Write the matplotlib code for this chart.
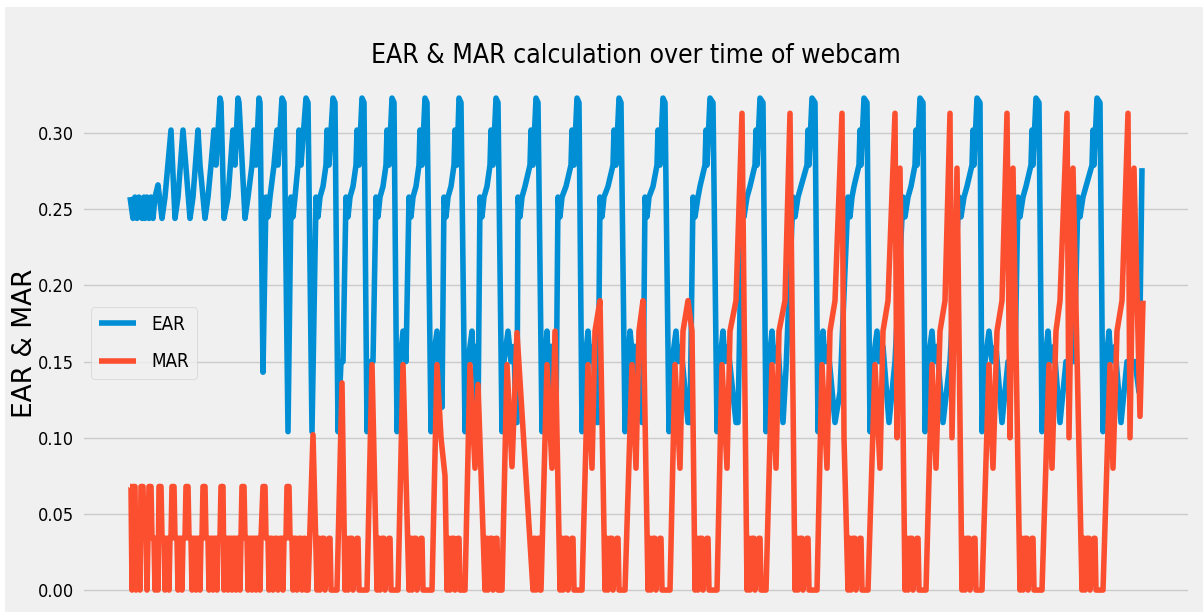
import matplotlib
matplotlib.use("Agg")
import matplotlib.pyplot as plt
from matplotlib.patches import Rectangle

plt.style.use('fivethirtyeight')

# EAR (eye aspect ratio) per webcam frame, one line per blink cycle
ear_frame = [
    0, 3, 5, 7, 9, 12, 14, 15, 17, 19, 21, 23, 25, 28, 32, 35,
    41, 45, 48, 53, 60, 63, 68, 70, 75, 78, 81, 84, 86, 90, 91,
    94, 98, 103, 105, 108, 109, 115, 118, 122, 124, 126, 129, 130,
    133, 136, 138, 140, 144, 147, 148, 152, 154,
    158, 161, 163, 165, 168, 169, 171, 176, 178,
    182, 186, 188, 190, 193, 196, 197, 199, 203, 205,
    208, 211, 213, 216, 218, 220, 223, 226, 227, 229, 232, 234,
    237, 240, 243, 246, 248, 250, 253, 256, 257, 259, 262, 264,
    267, 270, 273, 276, 279, 281, 283, 286, 289, 290, 292, 295, 297,
    301, 303, 307, 309, 311, 312, 314, 316, 318, 321, 324, 325, 327, 329, 331,
    335, 338, 342, 343, 345, 347, 348, 350, 352, 354, 357, 360, 361, 363, 366, 368,
    372, 374, 378, 381, 384, 386, 387, 388, 390, 392, 395, 400, 401, 403, 406, 408,
    412, 415, 417, 418, 421, 424, 426, 428, 430, 432, 436, 441, 442, 444, 447, 449,
    452, 455, 458, 460, 463, 467, 468, 470, 472, 474, 478, 483, 484, 486, 489, 491,
    495, 498, 500, 503, 505, 512, 513, 515, 517, 519, 523, 527, 528, 530, 533, 535,
    539, 542, 546, 548, 551, 558, 560, 563, 565, 568, 570, 575, 576, 577, 580, 583,
    587, 590, 593, 595, 598, 606, 608, 612, 614, 617, 620, 625, 626, 627, 630, 633,
    636, 639, 642, 644, 648, 653, 656, 663, 665, 668, 671, 677, 678, 679, 682, 685,
    688, 691, 693, 695, 698, 705, 710, 718, 720, 722, 724, 729, 730, 731, 734, 737,
    740, 743, 747, 749, 753, 759, 765, 773, 775, 778, 781, 785, 786, 787, 790, 793,
    795, 798, 802, 804, 807, 813, 820, 829, 831, 834, 837, 842, 843, 844, 847, 850,
    852, 855, 859, 862, 866, 872, 878, 885, 888, 890, 893, 896, 901, 902, 903, 906, 909,
    912, 915, 918, 920, 924, 930, 936, 944, 948, 950, 953, 956, 962, 963, 964, 967, 970,
    973, 976, 979, 981, 985, 991, 997, 1005, 1009, 1012,
]
ear_value = [
    0.258, 0.244, 0.258, 0.244, 0.258, 0.244, 0.258, 0.244, 0.258, 0.244, 0.258, 0.244, 0.258, 0.266, 0.244, 0.258,
    0.302, 0.244, 0.258, 0.302, 0.244, 0.258, 0.302, 0.279, 0.244, 0.258, 0.279, 0.302, 0.279, 0.323, 0.320,
    0.244, 0.258, 0.302, 0.279, 0.323, 0.320, 0.244, 0.258, 0.279, 0.302, 0.279, 0.323, 0.320,
    0.143, 0.258, 0.245, 0.258, 0.279, 0.302, 0.279, 0.323, 0.320,
    0.104, 0.258, 0.245, 0.258, 0.279, 0.302, 0.279, 0.323, 0.320,
    0.104, 0.258, 0.245, 0.258, 0.265, 0.279, 0.302, 0.279, 0.323, 0.320,
    0.104, 0.15, 0.15, 0.258, 0.245, 0.258, 0.265, 0.279, 0.302, 0.279, 0.323, 0.320,
    0.104, 0.15, 0.15, 0.258, 0.245, 0.258, 0.265, 0.279, 0.302, 0.279, 0.323, 0.320,
    0.104, 0.15, 0.17, 0.15, 0.258, 0.245, 0.258, 0.265, 0.279, 0.302, 0.279, 0.323, 0.320,
    0.104, 0.15, 0.17, 0.15, 0.16, 0.12, 0.258, 0.245, 0.258, 0.265, 0.279, 0.302, 0.279, 0.323, 0.320,
    0.104, 0.15, 0.17, 0.15, 0.16, 0.11, 0.11, 0.258, 0.245, 0.258, 0.265, 0.279, 0.302, 0.279, 0.323, 0.320,
    0.104, 0.15, 0.17, 0.15, 0.16, 0.11, 0.11, 0.258, 0.245, 0.258, 0.265, 0.279, 0.302, 0.279, 0.323, 0.320,
    0.104, 0.15, 0.17, 0.15, 0.16, 0.11, 0.11, 0.258, 0.245, 0.258, 0.265, 0.279, 0.302, 0.279, 0.323, 0.320,
    0.104, 0.15, 0.17, 0.15, 0.16, 0.11, 0.11, 0.258, 0.245, 0.258, 0.265, 0.279, 0.302, 0.279, 0.323, 0.320,
    0.104, 0.15, 0.17, 0.15, 0.16, 0.11, 0.11, 0.258, 0.245, 0.258, 0.265, 0.279, 0.302, 0.279, 0.323, 0.320,
    0.104, 0.15, 0.17, 0.15, 0.16, 0.11, 0.11, 0.258, 0.245, 0.258, 0.265, 0.279, 0.302, 0.279, 0.323, 0.320,
    0.104, 0.15, 0.17, 0.15, 0.16, 0.11, 0.11, 0.258, 0.245, 0.258, 0.265, 0.279, 0.302, 0.279, 0.323, 0.320,
    0.104, 0.15, 0.17, 0.15, 0.16, 0.11, 0.145, 0.258, 0.245, 0.258, 0.265, 0.279, 0.302, 0.279, 0.323, 0.320,
    0.104, 0.15, 0.17, 0.15, 0.16, 0.11, 0.13, 0.258, 0.245, 0.258, 0.265, 0.279, 0.302, 0.279, 0.323, 0.320,
    0.104, 0.15, 0.17, 0.15, 0.16, 0.11, 0.15, 0.258, 0.245, 0.258, 0.265, 0.279, 0.302, 0.279, 0.323, 0.320,
    0.104, 0.15, 0.17, 0.15, 0.16, 0.11, 0.15, 0.258, 0.245, 0.258, 0.265, 0.279, 0.302, 0.279, 0.323, 0.320,
    0.104, 0.15, 0.17, 0.15, 0.16, 0.11, 0.15, 0.15, 0.258, 0.245, 0.258, 0.265, 0.279, 0.302, 0.279, 0.323, 0.320,
    0.104, 0.15, 0.17, 0.15, 0.16, 0.11, 0.15, 0.15, 0.258, 0.245, 0.258, 0.265, 0.279, 0.302, 0.279, 0.323, 0.320,
    0.104, 0.15, 0.17, 0.15, 0.16, 0.11, 0.15, 0.15, 0.13, 0.277,
]

# MAR (mouth aspect ratio) per webcam frame
mar_frame = [
    0, 1, 2, 3, 5, 6, 7, 9, 10,
    11, 13, 14, 16, 17, 18,
    19, 21, 22, 24, 25, 26, 27, 28,
    29, 31, 32, 34, 35, 36, 38, 39, 40, 41,
    42, 44, 45, 47, 48, 49, 51, 52, 53, 55,
    56, 58, 59, 61, 62, 63, 65, 66, 67, 69, 70, 71, 72,
    73, 75, 76, 78, 79, 80, 82, 83, 84, 86, 87, 88, 90,
    91, 93, 94, 95, 97, 98, 99, 101, 102, 103, 105, 106, 107, 109, 110, 111,
    112, 114, 115, 117, 118, 119, 121, 122, 123, 125, 126, 127, 129, 130, 131,
    133, 135, 136, 138, 139, 140, 142, 143, 145, 147, 148, 150, 152, 153, 154, 156,
    157, 159, 160, 162, 163, 164, 166, 167, 169, 171, 172, 174, 175, 176, 178,
    183, 187, 188, 189, 190, 192, 194, 195, 199, 200, 201, 207,
    212, 215, 216, 217, 218, 220, 222, 223, 227, 228, 229, 237,
    242, 247, 248, 249, 250, 252, 254, 255, 259, 260, 261, 268,
    273, 279, 280, 281, 282, 284, 286, 287, 291, 292, 293, 302,
    307, 311, 315, 317, 318, 319, 320, 322, 324, 325, 328, 329, 330, 335,
    340, 345, 348, 355, 356, 357, 358, 360, 362, 363, 366, 367, 368, 372,
    377, 382, 387, 403, 404, 405, 406, 408, 409, 410, 411,
    417, 422, 425, 430, 431, 432, 433, 435, 437, 438, 442, 443, 444, 452,
    458, 462, 465, 470, 475, 476, 477, 478, 480, 482, 483, 487, 488, 489, 495,
    502, 506, 509, 513, 518, 519, 520, 521, 523, 525, 526, 530, 531, 532, 540,
    545, 550, 553, 558, 562, 565, 566, 567, 568, 570, 572, 573, 577, 578, 579, 587,
    592, 597, 600, 606, 612, 617, 618, 619, 620, 622, 624, 625, 629, 630, 631, 636,
    642, 646, 649, 655, 660, 665, 666, 667, 668, 670, 672, 673, 677, 678, 679, 687,
    692, 697, 700, 705, 712, 714, 718, 719, 720, 721, 723, 725, 726, 730, 731, 732, 738,
    745, 750, 753, 758, 765, 767, 770, 775, 776, 777, 778, 780, 782, 783, 787, 788, 789, 796,
    802, 806, 810, 815, 820, 822, 827, 832, 833, 834, 835, 837, 839, 840, 844, 845, 846, 852,
    859, 863, 867, 872, 877, 880, 883, 890, 891, 892, 893, 895, 897, 898, 902, 903, 904, 912,
    919, 922, 926, 930, 937, 939, 943, 952, 953, 954, 955, 957, 959, 960, 964, 965, 966, 973,
    980, 983, 987, 992, 998, 1000, 1004, 1010, 1013,
]
mar_value = [
    0.068, 0.068, 0, 0.068, 0.068, 0, 0.034, 0.034, 0,
    0.068, 0.068, 0.034, 0.034, 0, 0.034,
    0.068, 0.068, 0.034, 0.034, 0, 0.034, 0.034, 0,
    0.068, 0.068, 0.034, 0.034, 0, 0.034, 0.034, 0, 0.034, 0.034,
    0.068, 0.068, 0.034, 0.034, 0, 0.034, 0.034, 0, 0.034, 0.034,
    0.068, 0.068, 0.034, 0.034, 0, 0.034, 0.034, 0, 0.034, 0.034, 0, 0.034, 0.034,
    0.068, 0.068, 0.034, 0.034, 0, 0.034, 0.034, 0, 0.034, 0.034, 0, 0.034, 0.034,
    0.068, 0.068, 0, 0.034, 0.034, 0, 0.034, 0.034, 0, 0.034, 0.034, 0, 0.034, 0.034, 0, 0.034,
    0.068, 0.068, 0.034, 0.034, 0, 0.034, 0.034, 0, 0.034, 0.034, 0, 0.034, 0.034, 0, 0.034,
    0.068, 0.068, 0.034, 0.034, 0, 0.034, 0.034, 0, 0.034, 0.034, 0, 0.034, 0.034, 0, 0.034, 0.034,
    0.068, 0.068, 0.034, 0.034, 0, 0.034, 0.034, 0, 0.034, 0.034, 0, 0.034, 0.034, 0, 0,
    0.102, 0, 0.034, 0.034, 0, 0.034, 0.034, 0, 0.034, 0.034, 0, 0,
    0.136, 0, 0.034, 0.034, 0, 0.034, 0.034, 0, 0.034, 0.034, 0, 0,
    0.148, 0, 0.034, 0.034, 0, 0.034, 0.034, 0, 0.034, 0.034, 0, 0,
    0.148, 0, 0.034, 0.034, 0, 0.034, 0.034, 0, 0.034, 0.034, 0, 0,
    0.148, 0.10, 0.075, 0, 0.034, 0.034, 0, 0.034, 0.034, 0, 0.034, 0.034, 0, 0,
    0.148, 0.08, 0.135, 0, 0.034, 0.034, 0, 0.034, 0.034, 0, 0.034, 0.034, 0, 0,
    0.148, 0.081, 0.169, 0, 0.034, 0.034, 0, 0.034, 0.034, 0, 0,
    0.148, 0.08, 0.17, 0, 0.034, 0.034, 0, 0.034, 0.034, 0, 0.034, 0.034, 0, 0,
    0.148, 0.08, 0.17, 0.19, 0, 0.034, 0.034, 0, 0.034, 0.034, 0, 0.034, 0.034, 0, 0,
    0.148, 0.08, 0.17, 0.19, 0, 0.034, 0.034, 0, 0.034, 0.034, 0, 0.034, 0.034, 0, 0,
    0.148, 0.08, 0.17, 0.19, 0.17, 0, 0.034, 0.034, 0, 0.034, 0.034, 0, 0.034, 0.034, 0, 0,
    0.148, 0.08, 0.17, 0.19, 0.313, 0, 0.034, 0.034, 0, 0.034, 0.034, 0, 0.034, 0.034, 0, 0,
    0.148, 0.08, 0.17, 0.19, 0.313, 0, 0.034, 0.034, 0, 0.034, 0.034, 0, 0.034, 0.034, 0, 0,
    0.148, 0.08, 0.17, 0.19, 0.313, 0.10, 0, 0.034, 0.034, 0, 0.034, 0.034, 0, 0.034, 0.034, 0, 0,
    0.148, 0.08, 0.17, 0.19, 0.313, 0.10, 0.277, 0, 0.034, 0.034, 0, 0.034, 0.034, 0, 0.034, 0.034, 0, 0,
    0.148, 0.08, 0.17, 0.19, 0.313, 0.10, 0.277, 0, 0.034, 0.034, 0, 0.034, 0.034, 0, 0.034, 0.034, 0, 0,
    0.148, 0.08, 0.17, 0.19, 0.313, 0.10, 0.277, 0, 0.034, 0.034, 0, 0.034, 0.034, 0, 0.034, 0.034, 0, 0,
    0.148, 0.08, 0.17, 0.19, 0.313, 0.10, 0.277, 0, 0.034, 0.034, 0, 0.034, 0.034, 0, 0.034, 0.034, 0, 0,
    0.148, 0.08, 0.17, 0.19, 0.313, 0.10, 0.277, 0.114, 0.19,
]

y_ticks = [0.00, 0.05, 0.10, 0.15, 0.20, 0.25, 0.30]

fig = plt.figure(figsize=(12.03, 6.12), dpi=100, facecolor='white')
# light grey canvas with a thin white edge at top and left, as in the screenshot
fig.patches.append(Rectangle((5 / 1203, 0), 1, 1 - 7 / 612, transform=fig.transFigure,
                             facecolor='#f0f0f0', edgecolor='none', zorder=-10))

ax = fig.add_axes([82 / 1203, 0.0, 1108 / 1203, 538 / 612])
ax.plot(ear_frame, ear_value, label='EAR', color='#008fd5', linewidth=4)
ax.plot(mar_frame, mar_value, label='MAR', color='#fc4f30', linewidth=4)

ax.set_xlim(-48, 1060)
ax.set_ylim(-0.0144, 0.3388)
ax.set_yticks(y_ticks)
ax.grid(axis='x', visible=False)
ax.tick_params(axis='x', labelbottom=False)
ax.tick_params(axis='y', labelsize=13, pad=6)
for lab in ax.get_yticklabels():
    lab.set_fontstretch('condensed')

ax.set_title('EAR & MAR calculation over time of webcam', fontsize=19,
             fontstretch='condensed', pad=8)
ax.set_ylabel('EAR & MAR', fontsize=19)
ax.yaxis.set_label_coords(-0.040, 0.5)
leg = ax.legend(loc='center left', labelspacing=1.0, handlelength=2.0,
                prop={'size': 13.5, 'stretch': 'condensed'})

fig.savefig('out.png', dpi=100, facecolor=fig.get_facecolor())
